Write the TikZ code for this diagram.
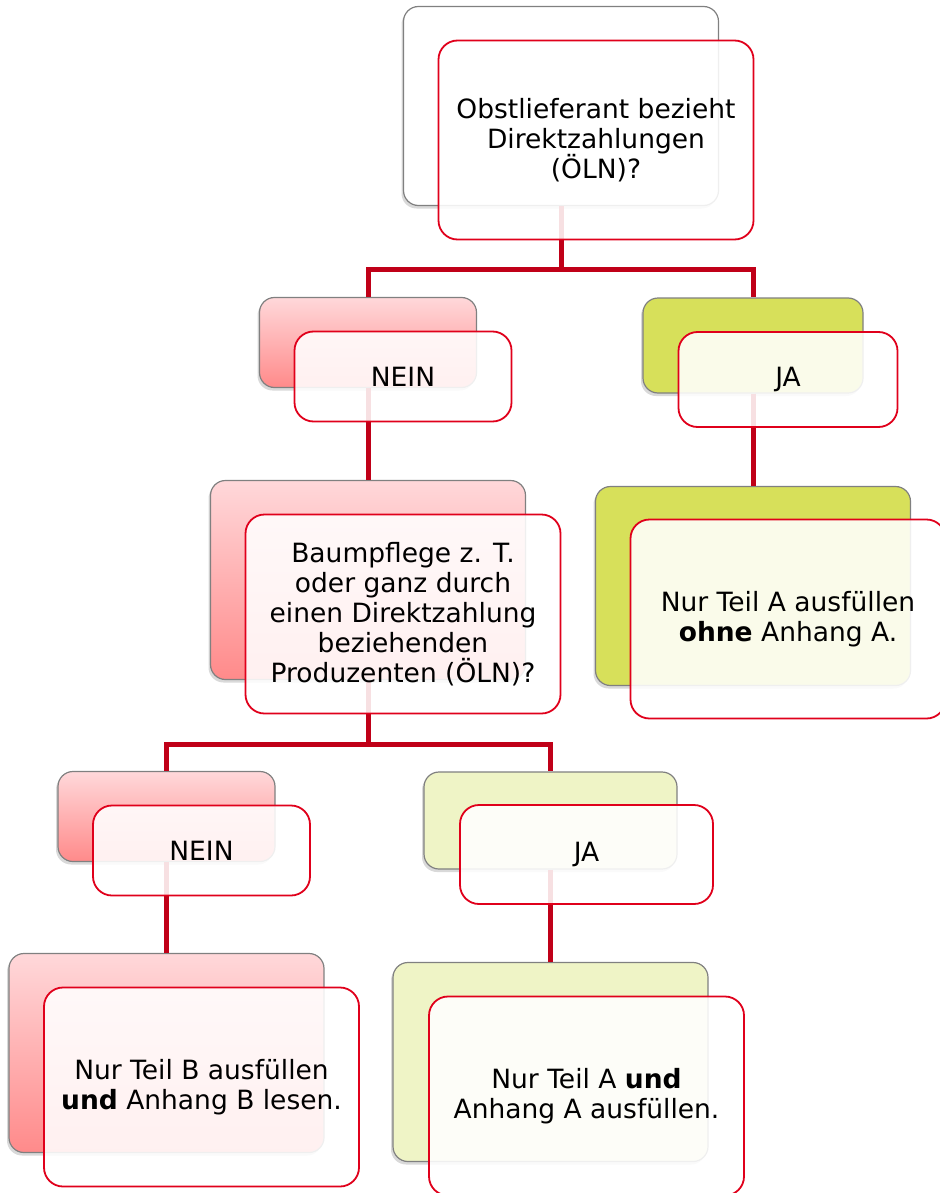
\documentclass[tikz,border=0pt]{standalone}
\usepackage{fontspec}
\setmainfont{DejaVu Sans}
\usepackage{tikz}
\usepackage{xcolor}
\usetikzlibrary{shadows}

\definecolor{linkred}{RGB}{192,0,24}
\definecolor{framered}{RGB}{224,0,27}
\definecolor{pinktop}{RGB}{255,216,218}
\definecolor{pinkbot}{RGB}{255,138,138}
\definecolor{jagreen}{RGB}{215,224,90}
\definecolor{japale}{RGB}{239,244,198}

\begin{document}
\begin{tikzpicture}[x=1pt,y=-1pt,
    back/.style={draw=black!50,line width=1.2pt,rounded corners=15pt,
        drop shadow={shadow xshift=-2pt,shadow yshift=-3pt,opacity=.3}},
    front/.style={draw=framered,line width=1.8pt,rounded corners=19pt,
        fill=white,fill opacity=.88,text opacity=1,align=center,inner sep=0pt,
        font=\fontsize{26.5}{30}\selectfont},
    neinfill/.style={top color=pinktop,bottom color=pinkbot},
    big/.style={minimum width=315pt,minimum height=199pt},
    small/.style={minimum width=217pt,minimum height=90pt},
    link/.style={draw=linkred,line width=5pt}]
    \useasboundingbox (0,0) rectangle (939,1193);
    \node[back,big,fill=white] (q1b) at (561,106) {};
    \node[back,small,neinfill] (n1b) at (368,342.5) {};
    \node[back,fill=jagreen,minimum width=220pt,minimum height=95pt] (j1b) at (753,345.5) {};
    \node[back,big,neinfill] (q2b) at (368,580) {};
    \node[back,big,fill=jagreen] (r1b) at (753,586) {};
    \node[back,small,neinfill] (n2b) at (166.5,816.5) {};
    \node[back,fill=japale,minimum width=253pt,minimum height=97pt] (j2b) at (550.5,820.5) {};
    \node[back,big,neinfill] (r2b) at (166.5,1053) {};
    \node[back,big,fill=japale] (r3b) at (550.5,1062) {};

    \draw[link] (q1b.south) -- ++(0,63) coordinate (fork1) -| (n1b.north);
    \draw[link] (fork1) -| (j1b.north);
    \draw[link] (n1b.south) -- (q2b.north);
    \draw[link] (j1b.south) -- (r1b.north);
    \draw[link] (q2b.south) -- ++(0,64) coordinate (fork2) -| (n2b.north);
    \draw[link] (fork2) -| (j2b.north);
    \draw[link] (n2b.south) -- (r2b.north);
    \draw[link] (j2b.south) -- (r3b.north);

    \node[front,big] (q1f) at ([shift={(35,34)}]q1b) {Obstlieferant bezieht\\Direktzahlungen\\(ÖLN)?};
    \node[front,small] (n1f) at ([shift={(35,34)}]n1b) {NEIN};
    \node[front,minimum width=219pt,minimum height=95pt] (j1f) at ([shift={(35,34)}]j1b) {JA};
    \node[front,big] (q2f) at ([shift={(35,34)}]q2b) {Baumpflege z. T.\\oder ganz durch\\einen Direktzahlung\\beziehenden\\Produzenten (ÖLN)?};
    \node[front,big] (r1f) at ([shift={(35,33)}]r1b) {Nur Teil A ausfüllen\\\textbf{ohne} Anhang A.};
    \node[front,small] (n2f) at ([shift={(35,34)}]n2b) {NEIN};
    \node[front,minimum width=253pt,minimum height=99pt] (j2f) at ([shift={(36,34)}]j2b) {JA};
    \node[front,big] (r2f) at ([shift={(35,34)}]r2b) {Nur Teil B ausfüllen\\\textbf{und} Anhang B lesen.};
    \node[front,big] (r3f) at ([shift={(36,34)}]r3b) {Nur Teil A \textbf{und}\\Anhang A ausfüllen.};
\end{tikzpicture}
\end{document}
